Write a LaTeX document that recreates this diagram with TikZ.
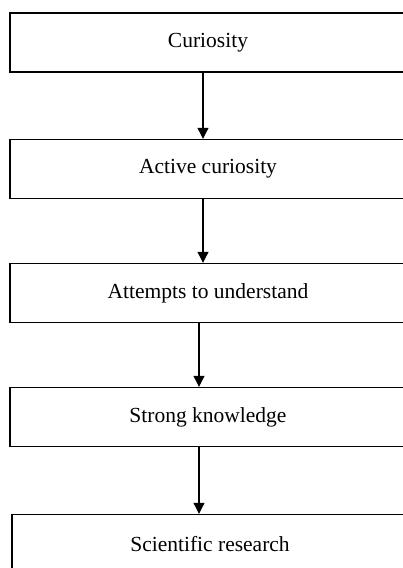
\documentclass[tikz,border=0pt]{standalone}
\usepackage{fontspec}
\setmainfont{Liberation Serif}
\usepackage{tikz}
\usetikzlibrary{arrows.meta}

\begin{document}
\begin{tikzpicture} [x = 1pt, y = -1pt,
    stage/.style = {draw, line width = 1.4pt, minimum width = 396pt, minimum height = 59pt,
      inner sep = 0pt, font = \fontsize{21.5}{26}\selectfont},
    flow/.style = {-{Triangle[length = 11pt, width = 11pt]}, line width = 1.1pt}]
    \useasboundingbox (0,0) rectangle (403,568);
    \node [stage] (curiosity) at (208,42.5) {Curiosity};
    \node [stage] (active) at (208,169) {Active curiosity};
    \node [stage] (attempts) at (208,293) {Attempts to understand};
    \node [stage] (knowledge) at (208,417) {Strong knowledge};
    \node [stage] (research) at (210,544) {Scientific research};
    \draw [flow] ([xshift = -5pt]curiosity.south)--([xshift = -5pt]active.north);
    \draw [flow] ([xshift = -5pt]active.south)--([xshift = -5pt]attempts.north);
    \draw [flow] ([xshift = -9pt]attempts.south)--([xshift = -9pt]knowledge.north);
    \draw [flow] ([xshift = -9pt]knowledge.south)--([xshift = -11pt]research.north);
  \end{tikzpicture}
\end{document}
